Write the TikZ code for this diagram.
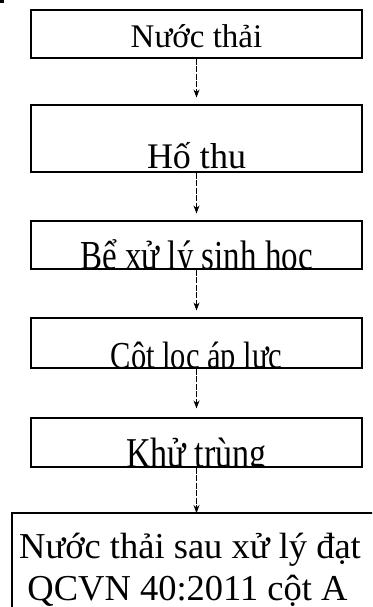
\documentclass[tikz,border=0pt]{standalone}
\usepackage{fontspec}
\usepackage{graphicx}
\setmainfont{Liberation Serif}
\usetikzlibrary{arrows.meta}
\newcommand{\tallx}[1]{\scalebox{1}[1.25]{#1}}
\begin{document}
\begin{tikzpicture}[x=1pt,y=-1pt,
  boxst/.style={draw, line width=1.1pt, minimum width=331pt, inner xsep=0pt, inner ysep=0pt,
    font=\fontsize{32}{38}\selectfont, anchor=base},
  lastst/.style={inner sep=0pt, font=\fontsize{36.5}{42}\selectfont, anchor=base},
  conn/.style={line width=0.7pt, dash pattern=on 6pt off 1.5pt, -{Stealth[length=8pt,width=6pt]}},
  ]
\clip (0,0) rectangle (372,607);
\fill[white] (0,0) rectangle (372,607);
\fill (0,0) rectangle (4,3);
% boxes
\node[boxst, text height=38pt, text depth=10pt, font=\fontsize{33}{38}\selectfont] (n1) at (196.5,48) {Nước thải};
\node[boxst, text height=63pt, text depth=4pt, font=\fontsize{36}{40}\selectfont] (n2) at (196.5,168) {Hố thu};
\begin{scope}
  \clip (20,200) rectangle (372,269.6);
  \node[boxst, text height=48pt, text depth=0pt, font=\fontsize{33}{38}\selectfont] (n3) at (196.5,269) {\tallx{Bể xử lý sinh học}};
\end{scope}
\begin{scope}
  \clip (20,300) rectangle (372,368.6);
  \node[boxst, text height=50pt, text depth=0pt, font=\fontsize{30.5}{38}\selectfont] (n4) at (196.5,368) {\tallx{Cột lọc áp lực}};
\end{scope}
\begin{scope}
  \clip (20,400) rectangle (372,467.6);
  \node[boxst, text height=49pt, text depth=0pt, font=\fontsize{34}{38}\selectfont] (n5) at (196.5,467) {\tallx{Khử trùng}};
\end{scope}
% last box (cut by the picture edge)
\draw[line width=1.1pt] (12,620) |- (390,513);
\coordinate (c6) at (196.5,513);
\node[lastst] (n6a) at (190,558) {Nước thải sau xử lý đạt};
\node[lastst] (n6b) at (187.5,600) {QCVN 40:2011 cột A};
% connectors
\draw[conn, shorten >=7pt] (n1.south) -- (n2.north);
\draw[conn, shorten >=7pt] (n2.south) -- (n3.north);
\draw[conn, shorten >=7pt] (n3.south) -- (n4.north);
\draw[conn, shorten >=9pt] (n4.south) -- (n5.north);
\draw[conn] (n5.south) -- (c6);
\end{tikzpicture}
\end{document}
